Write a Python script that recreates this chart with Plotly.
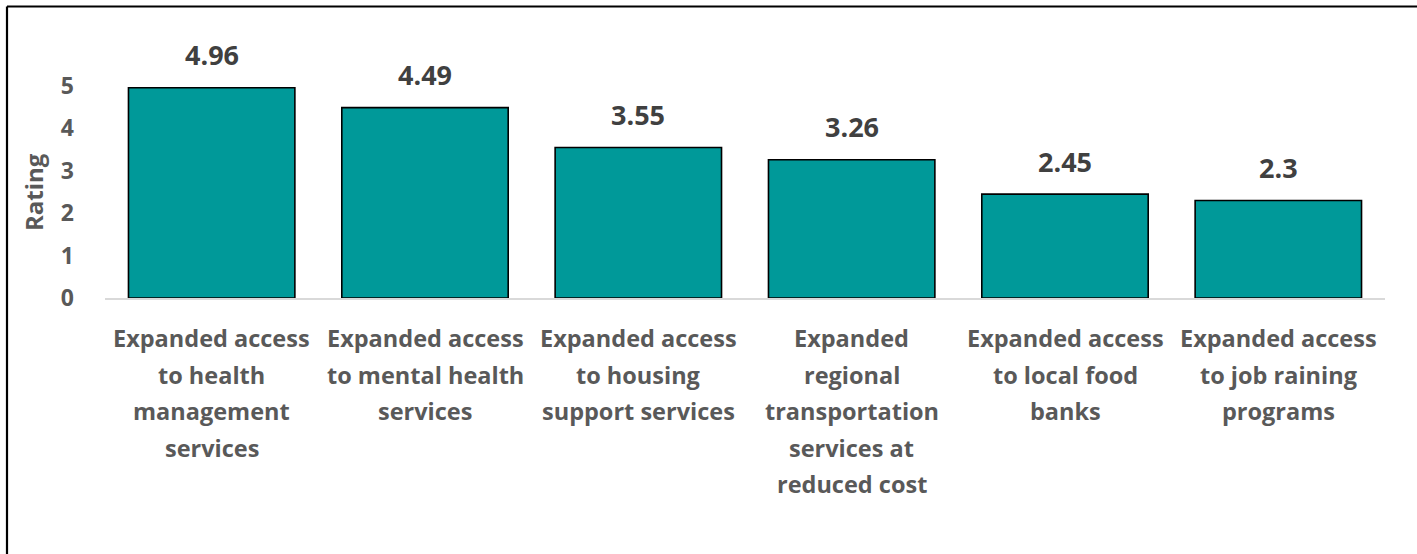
import plotly.graph_objects as go

# Survey ratings for each proposed service expansion
categories = [
    "Expanded access<br>to health<br>management<br>services",
    "Expanded access<br>to mental health<br>services",
    "Expanded access<br>to housing<br>support services",
    "Expanded<br>regional<br>transportation<br>services at<br>reduced cost",
    "Expanded access<br>to local food<br>banks",
    "Expanded access<br>to job raining<br>programs",
]
ratings = [4.96, 4.49, 3.55, 3.26, 2.45, 2.3]
value_labels = ["4.96", "4.49", "3.55", "3.26", "2.45", "2.3"]
y_ticks = [0, 1, 2, 3, 4, 5]

FONT = "Open Sans"
BAR_COLOR = "#009999"
LABEL_GRAY = "#595959"
VALUE_GRAY = "#404040"

W, H = 1417, 554
M_L, M_R, M_T, M_B = 105, 32, 86, 256
plot_w = W - M_L - M_R
plot_h = H - M_T - M_B

fig = go.Figure()
fig.add_trace(go.Bar(
    x=list(range(len(categories))),
    y=ratings,
    marker=dict(color=BAR_COLOR, line=dict(color="#000000", width=1.6)),
    hoverinfo="skip",
))

annotations = []
# value labels above each bar
for i, (v, lab) in enumerate(zip(ratings, value_labels)):
    annotations.append(dict(
        x=i, y=v, xref="x", yref="y", text=f"<b>{lab}</b>",
        showarrow=False, yanchor="middle", yshift=33,
        font=dict(family=FONT, size=27, color=VALUE_GRAY),
    ))

# category labels, one annotation per line for wider line spacing
LINE_STEP = 36.5
FIRST_LINE_Y = 338
for i, cat in enumerate(categories):
    for j, line in enumerate(cat.split("<br>")):
        y_px = FIRST_LINE_Y + j * LINE_STEP
        annotations.append(dict(
            x=i, xref="x", yref="paper", y=(H - M_B - y_px) / plot_h,
            text=f"<b>{line}</b>", showarrow=False,
            xanchor="center", yanchor="middle",
            font=dict(family=FONT, size=23.5, color=LABEL_GRAY),
        ))

# y-axis title
annotations.append(dict(
    x=(33 - M_L) / plot_w, y=0.5, xref="paper", yref="paper",
    text="<b>Rating</b>", textangle=-90, showarrow=False,
    xanchor="center", yanchor="middle",
    font=dict(family=FONT, size=24, color=LABEL_GRAY),
))

# chart frame: top and left edges of the surrounding box
frame_x = (7 - M_L) / plot_w
frame_y = (H - M_B - 6.5) / plot_h
shapes = [
    dict(type="line", xref="paper", yref="paper",
         x0=frame_x, x1=(W - M_L) / plot_w, y0=frame_y, y1=frame_y,
         line=dict(color="#000000", width=2.2), layer="above"),
    dict(type="line", xref="paper", yref="paper",
         x0=frame_x, x1=frame_x, y0=frame_y, y1=(H - M_B - H) / plot_h,
         line=dict(color="#000000", width=2.2), layer="above"),
]

fig.update_layout(
    width=W, height=H,
    margin=dict(l=M_L, r=M_R, t=M_T, b=M_B),
    paper_bgcolor="white", plot_bgcolor="white",
    bargap=0.22,
    showlegend=False,
    annotations=annotations,
    shapes=shapes,
    xaxis=dict(
        range=[-0.5, len(categories) - 0.5],
        showticklabels=False, showgrid=False, zeroline=False,
        showline=True, linecolor="#d9d9d9", linewidth=1.5, ticks="",
        fixedrange=True,
    ),
    yaxis=dict(
        range=[0, 5], tickvals=y_ticks,
        ticktext=[f"<b>{t}</b>" for t in y_ticks],
        tickfont=dict(family=FONT, size=23, color=LABEL_GRAY),
        showgrid=False, zeroline=False, showline=False, ticks="",
        ticklabelstandoff=30,
        fixedrange=True,
    ),
)

fig.write_html("out.html", config={"displayModeBar": False})
